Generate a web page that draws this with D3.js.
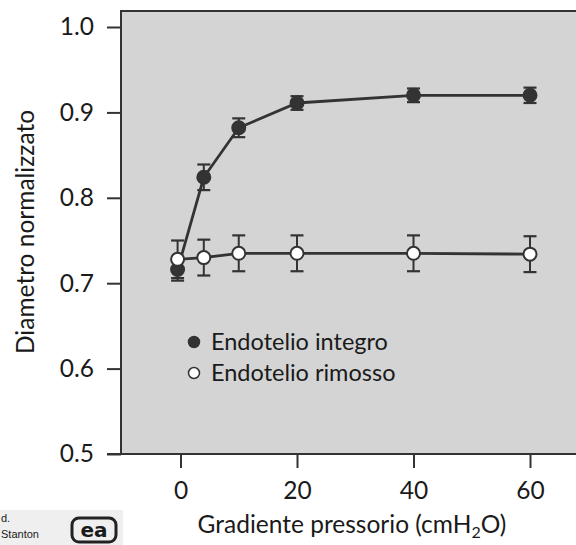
<!DOCTYPE html>
<html><head><meta charset="utf-8">
<script src="https://cdn.jsdelivr.net/npm/d3@7"></script>
<style>
body{margin:0;background:#fff;}
svg{display:block;}
text{font-family:Lato,"DejaVu Sans",sans-serif;fill:#1a1a1a;}
</style></head>
<body>
<svg id="c" width="576" height="545"></svg>
<script>
const pressure = [-0.5, 4, 10, 20, 40, 60];
const integro = [0.716, 0.824, 0.882, 0.911, 0.920, 0.920];
const integroErr = [0.013, 0.015, 0.011, 0.008, 0.008, 0.009];
const rimosso = [0.728, 0.730, 0.735, 0.735, 0.735, 0.734];
const rimossoErr = [0.022, 0.021, 0.021, 0.021, 0.021, 0.021];
const xTicks = [0, 20, 40, 60];
const yTicks = [0.5, 0.6, 0.7, 0.8, 0.9, 1.0];
const legendLabels = ["Endotelio integro", "Endotelio rimosso"];

const svg = d3.select("#c");
const x = d3.scaleLinear().domain([0, 60]).range([180.5, 530]);
const y = d3.scaleLinear().domain([0.5, 1.0]).range([454, 27]);

const boxLeft = 121, boxTop = 11, boxRight = 590, boxBottom = 454;
const ink = "#333";

// plot background
svg.append("rect").attr("x", boxLeft).attr("y", boxTop)
  .attr("width", boxRight - boxLeft).attr("height", boxBottom - boxTop)
  .attr("fill", "#d4d4d4").attr("stroke", ink).attr("stroke-width", 2);

// y axis
const yAxis = d3.axisLeft(y).tickValues(yTicks).tickFormat(d3.format(".1f"))
  .tickSize(14).tickPadding(13);
const gy = svg.append("g").attr("transform", `translate(${boxLeft},0)`).call(yAxis);
gy.select(".domain").remove();
gy.selectAll(".tick line").attr("stroke", ink).attr("stroke-width", 2);
gy.selectAll(".tick text").attr("font-size", 24.5).attr("fill", "#1a1a1a")
  .style("font-family", "Lato, sans-serif");

// bottom line extension to 0.5 tick
svg.append("line").attr("x1", boxLeft - 14).attr("x2", boxLeft).attr("y1", boxBottom).attr("y2", boxBottom)
  .attr("stroke", ink).attr("stroke-width", 2);

// x axis
const xAxis = d3.axisBottom(x).tickValues(xTicks).tickFormat(d3.format("d"))
  .tickSize(13).tickPadding(14);
const gx = svg.append("g").attr("transform", `translate(0,${boxBottom + 1})`).call(xAxis);
gx.select(".domain").remove();
gx.selectAll(".tick line").attr("stroke", ink).attr("stroke-width", 2);
gx.selectAll(".tick text").attr("font-size", 24.5).attr("fill", "#1a1a1a")
  .style("font-family", "Lato, sans-serif");

// axis titles
svg.append("text").attr("transform", "translate(34,232) rotate(-90)")
  .attr("text-anchor", "middle").attr("font-size", 24.5).text("Diametro normalizzato");
const xt = svg.append("text").attr("x", 352).attr("y", 533).attr("text-anchor", "middle").attr("font-size", 24.5);
xt.append("tspan").text("Gradiente pressorio (cmH");
xt.append("tspan").attr("font-size", 16).attr("dy", 5).text("2");
xt.append("tspan").attr("dy", -5).text("O)");

// series
function drawSeries(vals, errs, fill) {
  const pts = pressure.map((p, i) => ({p, v: vals[i], e: errs[i]}));
  const g = svg.append("g");
  g.append("path").datum(pts)
    .attr("d", d3.line().x(d => x(d.p)).y(d => y(d.v)))
    .attr("fill", "none").attr("stroke", ink).attr("stroke-width", 2.8);
  const eb = g.selectAll(".eb").data(pts).enter().append("g");
  eb.append("line").attr("x1", d => x(d.p)).attr("x2", d => x(d.p))
    .attr("y1", d => y(d.v - d.e)).attr("y2", d => y(d.v + d.e))
    .attr("stroke", ink).attr("stroke-width", 2);
  [-1, 1].forEach(s => {
    eb.append("line").attr("x1", d => x(d.p) - 6.5).attr("x2", d => x(d.p) + 6.5)
      .attr("y1", d => y(d.v + s * d.e)).attr("y2", d => y(d.v + s * d.e))
      .attr("stroke", ink).attr("stroke-width", 2.2);
  });
  g.selectAll(".pt").data(pts).enter().append("circle")
    .attr("cx", d => x(d.p)).attr("cy", d => y(d.v)).attr("r", 6.5)
    .attr("fill", fill).attr("stroke", ink).attr("stroke-width", 2);
}
drawSeries(integro, integroErr, "#333");
drawSeries(rimosso, rimossoErr, "#fff");

// legend
const legFills = ["#333", "#fff"];
legendLabels.forEach((t, i) => {
  const ly = 342 + i * 31;
  svg.append("circle").attr("cx", 194).attr("cy", ly).attr("r", 5.5)
    .attr("fill", legFills[i]).attr("stroke", ink).attr("stroke-width", 1.5);
  svg.append("text").attr("x", 211).attr("y", ly + 8).attr("font-size", 23.5).text(t);
});

// publisher credit fragment (bottom-left)
svg.append("rect").attr("x", 0).attr("y", 510).attr("width", 123).attr("height", 35).attr("fill", "#efefef");
svg.append("text").attr("x", 1).attr("y", 522).attr("font-size", 11)
  .style("font-family", "Liberation Sans, Arial, sans-serif").text("d.");
svg.append("text").attr("x", 1).attr("y", 538).attr("font-size", 11)
  .style("font-family", "Liberation Sans, Arial, sans-serif").text("Stanton");
svg.append("rect").attr("x", 72).attr("y", 518).attr("width", 44).attr("height", 24).attr("rx", 7)
  .attr("fill", "none").attr("stroke", "#222").attr("stroke-width", 3);
svg.append("text").attr("x", 94).attr("y", 537).attr("text-anchor", "middle").attr("font-size", 20)
  .attr("font-weight", "bold").style("font-family", "DejaVu Sans, sans-serif").text("ea");
</script>
</body></html>
